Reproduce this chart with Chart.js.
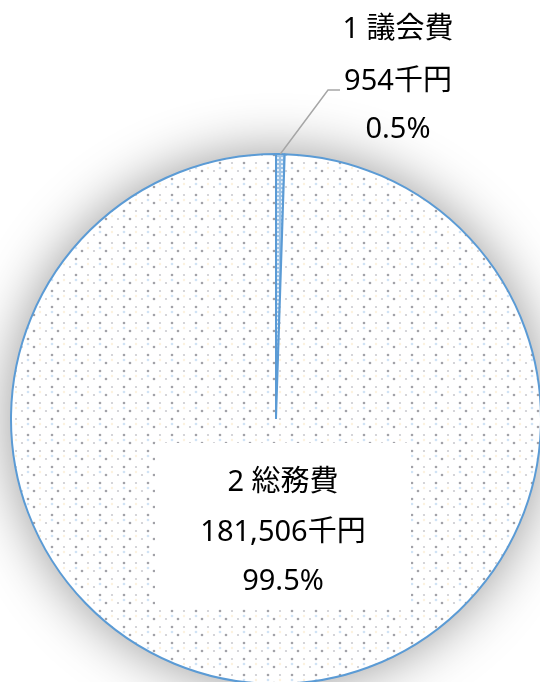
<!DOCTYPE html>
<html>
<head>
<meta charset="utf-8">
<script src="https://cdn.jsdelivr.net/npm/chart.js@4"></script>
<style>
    html, body { margin: 0; padding: 0; background: #fff; overflow: hidden; }
    #wrap { position: absolute; left: 0; top: 0; width: 552px; height: 685px; }
</style>
</head>
<body>
<div id="wrap"><canvas id="mainChart"></canvas></div>
<script>
// データ (千円)
const categories = ['1 議会費', '2 総務費'];
const values = [954, 181506];
const unit = '千円';

const FONT = '"Noto Sans", "Noto Sans CJK JP", sans-serif';

function formatNum(v) {
    return new Intl.NumberFormat('ja-JP').format(v);
}

function percentText(i) {
    const total = values.reduce((a, b) => a + b, 0);
    return (values[i] / total * 100).toFixed(1) + '%';
}

// 点描パターン
function makeDotPattern() {
    const c = document.createElement('canvas');
    c.width = 24; c.height = 16;
    const g = c.getContext('2d');
    g.fillStyle = '#ffffff';
    g.fillRect(0, 0, 24, 16);
    const dot = (x, y, r, col) => {
        g.fillStyle = col;
        g.beginPath(); g.arc(x, y, r, 0, Math.PI * 2); g.fill();
    };
    dot(4, 3, 1.3, 'rgba(100,100,110,0.6)');
    dot(16, 3, 1.1, 'rgba(140,140,150,0.45)');
    dot(10, 11, 1.3, 'rgba(100,100,110,0.6)');
    dot(22, 11, 1.1, 'rgba(140,140,150,0.45)');
    dot(4, 8, 1.3, 'rgba(120,175,225,0.35)');
    dot(16, 8, 1.2, 'rgba(245,215,160,0.35)');
    return g.createPattern(c, 'repeat');
}

function makeBluePattern() {
    const c = document.createElement('canvas');
    c.width = 4; c.height = 4;
    const g = c.getContext('2d');
    g.fillStyle = '#9dc3e6';
    g.fillRect(0, 0, 4, 4);
    g.fillStyle = '#ffffff';
    g.beginPath(); g.arc(2, 2, 1, 0, Math.PI * 2); g.fill();
    return g.createPattern(c, 'repeat');
}

// 影 (ぼかし)
const shadowPlugin = {
    id: 'pieShadow',
    beforeDatasetsDraw(chart) {
        const arc = chart.getDatasetMeta(0).data[0];
        if (!arc) return;
        const ctx = chart.ctx;
        ctx.save();
        ctx.shadowColor = 'rgba(0,0,0,0.42)';
        ctx.shadowBlur = 56;
        ctx.fillStyle = '#ffffff';
        ctx.beginPath();
        ctx.arc(arc.x, arc.y, arc.outerRadius, 0, Math.PI * 2);
        ctx.fill();
        ctx.restore();
    }
};

// ラベル
const labelPlugin = {
    id: 'sliceLabels',
    afterDatasetsDraw(chart) {
        const meta = chart.getDatasetMeta(0);
        const a0 = meta.data[0];
        const ctx = chart.ctx;
        const cx = a0.x, cy = a0.y, r = a0.outerRadius;

        ctx.save();
        ctx.font = '29px ' + FONT;
        ctx.textAlign = 'center';
        ctx.textBaseline = 'middle';
        ctx.fillStyle = '#000000';

        // 1 議会費 (外側、引き出し線)
        const mid0 = (a0.startAngle + a0.endAngle) / 2;
        const px = cx + Math.cos(mid0) * r;
        const py = cy + Math.sin(mid0) * r;
        ctx.strokeStyle = '#a6a6a6';
        ctx.lineWidth = 1.5;
        ctx.beginPath();
        ctx.moveTo(px, py);
        ctx.lineTo(cx + 52, cy - 329);
        ctx.lineTo(cx + 64, cy - 329);
        ctx.stroke();

        const lx = cx + 122;
        ctx.fillText(categories[0], lx, cy - 389);
        ctx.fillText(formatNum(values[0]) + unit, lx, cy - 337);
        ctx.fillText(percentText(0), lx, cy - 289);

        // 2 総務費 (白い箱)
        const bx = cx + 7;
        ctx.fillStyle = '#ffffff';
        ctx.fillRect(cx - 121, cy + 24, 256, 165);
        ctx.fillStyle = '#000000';
        ctx.fillText(categories[1], bx, cy + 64);
        ctx.fillText(formatNum(values[1]) + unit, bx, cy + 114);
        ctx.fillText(percentText(1), bx, cy + 163);
        ctx.restore();
    }
};

let mainChart = null;

function initChart() {
    const ctx = document.getElementById('mainChart').getContext('2d');
    mainChart = new Chart(ctx, {
        type: 'pie',
        data: {
            labels: categories,
            datasets: [{
                data: values,
                backgroundColor: [makeBluePattern(), makeDotPattern()],
                borderColor: '#5b9bd5',
                borderWidth: 2
            }]
        },
        options: {
            responsive: true,
            maintainAspectRatio: false,
            animation: false,
            layout: { padding: { top: 153, left: 0, right: 0, bottom: 0 } },
            plugins: {
                legend: { display: false },
                tooltip: { enabled: false }
            }
        },
        plugins: [shadowPlugin, labelPlugin]
    });
}

initChart();
</script>
</body>
</html>
